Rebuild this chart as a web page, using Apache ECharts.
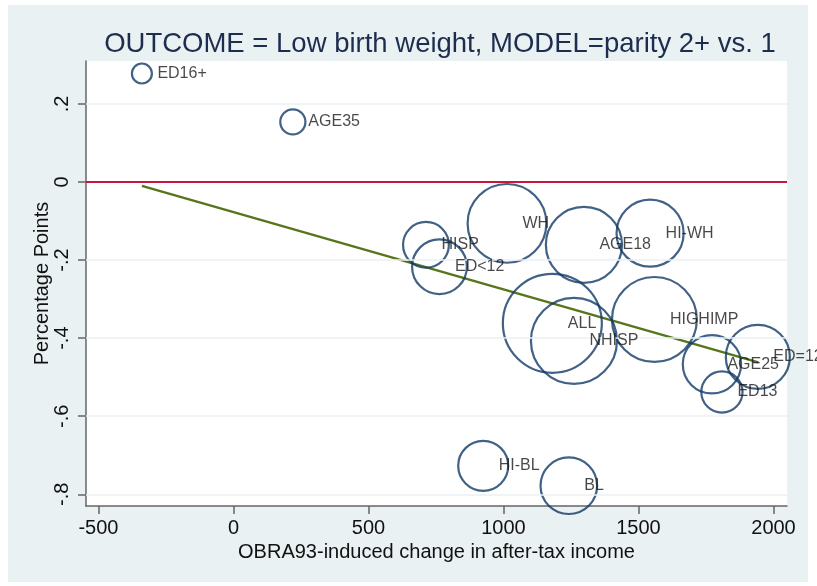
<!DOCTYPE html>
<html>
<head>
<meta charset="utf-8">
<script src="https://cdn.jsdelivr.net/npm/echarts@6/dist/echarts.min.js"></script>
<style>
  html, body { margin: 0; padding: 0; background: #fff; }
  #chart { width: 817px; height: 586px; }
</style>
</head>
<body>
<div id="chart"></div>
<script>
// groups
const groups  = ['ED16+', 'AGE35', 'HISP', 'ED<12', 'WH', 'AGE18', 'HI-WH', 'ALL', 'NHISP', 'HIGHIMP', 'AGE25', 'ED=12', 'ED13', 'HI-BL', 'BL']
const incomeChange = [-339, 220, 713, 763, 1013, 1298, 1543, 1181, 1261, 1559, 1772, 1942, 1809, 925, 1242]
const effect  = [0.278, 0.154, -0.161, -0.217, -0.106, -0.161, -0.131, -0.362, -0.407, -0.352, -0.467, -0.448, -0.538, -0.727, -0.778]
const weights = [4, 6.3, 21, 30, 62, 58, 45, 98, 74, 72, 34, 41, 17, 25, 32]
// fitted line end points
const fitX = [-339, 1944]
const fitY = [-0.010, -0.462]
const xTicks = [-500, 0, 500, 1000, 1500, 2000]
const yTicks = [-0.8, -0.6, -0.4, -0.2, 0, 0.2]

const font = '"Liberation Sans", Arial, sans-serif'

const chart = echarts.init(document.getElementById('chart'))

const points = groups.map((g, i) => ({ name: g, value: [incomeChange[i], effect[i], weights[i]] }))

chart.setOption({
  backgroundColor: '#ffffff',
  animation: false,
  graphic: [{
    type: 'rect',
    z: -100,
    shape: { x: 8, y: 5, width: 800, height: 577 },
    style: { fill: '#eaf1f3' }
  }],
  title: {
    text: 'OUTCOME = Low birth weight, MODEL=parity 2+ vs. 1',
    left: 435,
    textAlign: 'center',
    top: 25,
    textStyle: { fontFamily: font, fontSize: 27.5, fontWeight: 'normal', color: '#1c2d4e' }
  },
  grid: {
    left: 86, top: 61, right: 30, bottom: 80,
    show: true, backgroundColor: '#ffffff', borderWidth: 0
  },
  xAxis: {
    type: 'value',
    min: -546,
    max: 2050,
    name: 'OBRA93-induced change in after-tax income',
    nameLocation: 'middle',
    nameGap: 32,
    nameTextStyle: { fontFamily: font, fontSize: 20, color: '#111' },
    axisLine: { onZero: false, lineStyle: { color: '#666', width: 1.5 } },
    axisTick: { show: true, length: 8, customValues: xTicks, lineStyle: { color: '#666', width: 1.5 } },
    axisLabel: {
      customValues: xTicks, margin: 12, fontFamily: font, fontSize: 20, color: '#111',
      formatter: function (v) { return String(v) }
    },
    splitLine: { show: false }
  },
  yAxis: {
    type: 'value',
    min: -0.83,
    max: 0.31,
    name: 'Percentage Points',
    nameLocation: 'middle',
    nameGap: 34,
    nameMoveOverlap: false,
    nameTextStyle: { fontFamily: font, fontSize: 20, color: '#111' },
    axisLine: { onZero: false, lineStyle: { color: '#666', width: 1.5 } },
    axisTick: { show: true, length: 8, customValues: yTicks, lineStyle: { color: '#666', width: 1.5 } },
    axisLabel: {
      customValues: yTicks,
      rotate: 90,
      margin: 14,
      fontFamily: font, fontSize: 20, color: '#111',
      formatter: function (v) {
        if (Math.abs(v) < 1e-9) return '0'
        return (v < 0 ? '-' : '') + Math.abs(v).toFixed(1).replace(/^0/, '')
      }
    },
    splitLine: { show: false }
  },
  series: [
    {
      // grid lines and zero reference
      type: 'line',
      data: [],
      silent: true,
      z: 1,
      markLine: {
        silent: true,
        symbol: 'none',
        label: { show: false },
        data: yTicks.filter(v => v !== 0).map(v => ({ yAxis: v, lineStyle: { color: '#eaf1f3', width: 1.6, type: 'solid' } }))
          .concat([{ yAxis: 0, lineStyle: { color: '#c8163f', width: 2, type: 'solid' } }])
      }
    },
    {
      name: 'fit',
      type: 'line',
      data: fitX.map((x, i) => [x, fitY[i]]),
      symbol: 'none',
      z: 3,
      lineStyle: { color: '#56751c', width: 2.4 }
    },
    {
      name: 'groups',
      type: 'scatter',
      data: points,
      clip: false,
      z: 4,
      symbol: 'circle',
      symbolSize: function (v) { return 10 * Math.sqrt(v[2]) },
      itemStyle: { color: 'rgba(0,0,0,0)', borderColor: '#123a66', borderWidth: 2.2 }
    },
    {
      name: 'labels',
      type: 'scatter',
      data: points,
      clip: false,
      z: 5,
      symbolSize: 1,
      itemStyle: { color: 'rgba(0,0,0,0)' },
      label: {
        show: true,
        position: 'right',
        distance: 15,
        formatter: '{b}',
        fontFamily: font, fontSize: 16, color: '#1a1a1a'
      }
    }
  ]
})
</script>
</body>
</html>
